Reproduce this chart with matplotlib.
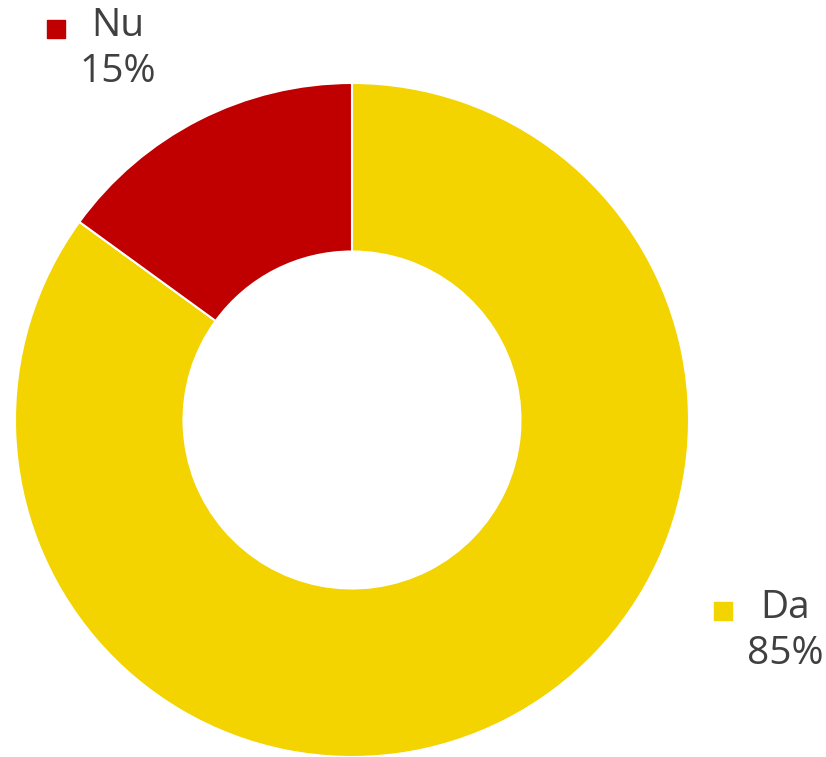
import matplotlib
matplotlib.use("Agg")
import matplotlib.pyplot as plt

# data
labels = ["Da", "Nu"]
values = [85, 15]
colors = ["#F3D300", "#C00000"]

W, H = 826, 757
fig = plt.figure(figsize=(W / 100, H / 100), dpi=100)
ax = fig.add_axes([0, 0, 1, 1])
ax.set_xlim(0, W)
ax.set_ylim(0, H)
ax.set_aspect("equal")
ax.axis("off")

cx, cy, r = 352, H - 420, 337
ax.pie(values, colors=colors, startangle=90, counterclock=False,
       center=(cx, cy), radius=r, frame=True,
       wedgeprops=dict(width=r * 0.5, edgecolor="white", linewidth=1.5))
ax.set_xlim(0, W)
ax.set_ylim(0, H)
ax.axis("off")

# label positions (pixel coords, y from top)
lab_pos = {"Da": (785, 608), "Nu": (118, 26)}
txt = "#404040"
for name, v, c in zip(labels, values, colors):
    x, y = lab_pos[name]
    ax.text(x, H - y, name, ha="center", va="center", fontsize=28,
            color=txt, family="Open Sans")
    ax.text(x, H - y - 46, f"{v}%", ha="center", va="center", fontsize=28,
            color=txt, family="Open Sans")
    ax.scatter([x - 62], [H - y - 3], marker="s", s=150, color=c, zorder=5)

fig.savefig("out.png", dpi=100)
